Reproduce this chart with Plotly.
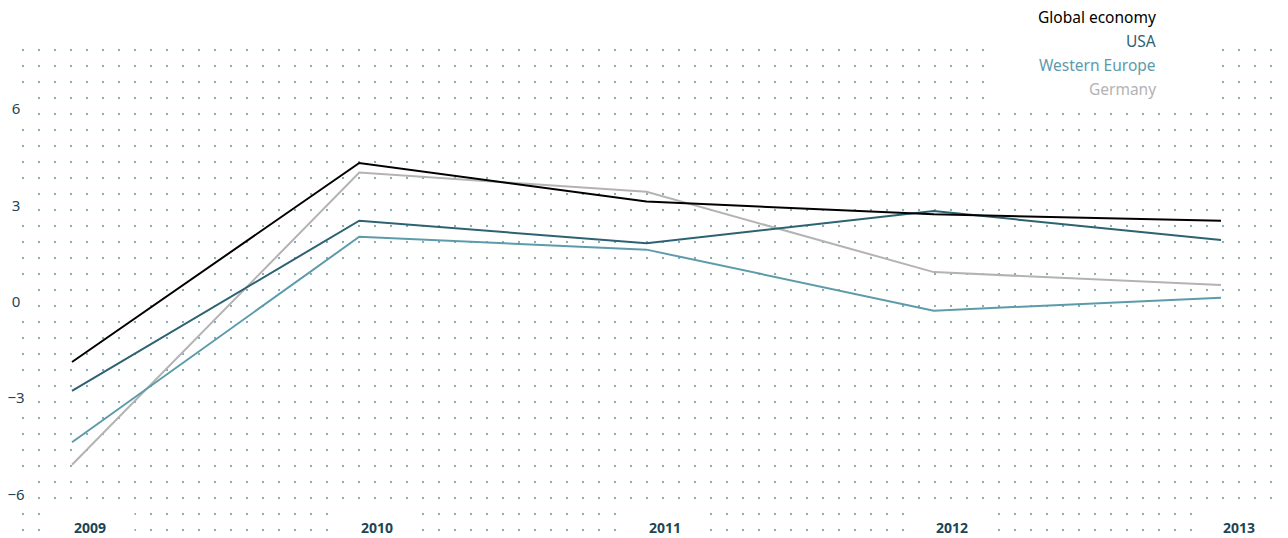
import numpy as np
import plotly.graph_objects as go

# ---- data ----
years = [2009, 2010, 2011, 2012, 2013]
year_labels = ["2009", "2010", "2011", "2012", "2013"]
series_names = ["Global economy", "USA", "Western Europe", "Germany"]
global_economy = [-1.9, 4.3, 3.1, 2.7, 2.5]
usa = [-2.8, 2.5, 1.8, 2.8, 1.9]
western_europe = [-4.4, 2.0, 1.6, -0.3, 0.1]
germany = [-5.1, 4.0, 3.4, 0.9, 0.5]
y_ticks = [6, 3, 0, -3, -6]
y_tick_labels = ["6", "3", "0", "\u22123", "\u22126"]

# ---- style ----
W, H = 1288, 538
OFF = 8  # page body margin: figure is drawn 8px right/down of the window origin
FONT = "Noto Sans"
colors = {"Global economy": "#000000", "USA": "#2c6272",
          "Western Europe": "#5d9bab", "Germany": "#b3b3b3"}
values = {"Global economy": global_economy, "USA": usa,
          "Western Europe": western_europe, "Germany": germany}
label_color = "#1d4655"
dot_color = "#86afbe"

# pixel mapping (window pixels) for data axes
x0_px, x1_px = 72, 1221
px_per_year = (x1_px - x0_px) / (years[-1] - years[0])
zero_px, px_per_unit = 301, 32.1
x_range = [years[0] - (x0_px - OFF) / px_per_year,
           years[-1] + (W + OFF - x1_px) / px_per_year]
y_range = [(zero_px - (H + OFF)) / px_per_unit, (zero_px - OFF) / px_per_unit]

fig = go.Figure()

# background dot grid (base axes in window pixel units)
gx = np.arange(7, W, 16)
gy = np.arange(50, H, 16)
GX, GY = np.meshgrid(gx, gy)
fig.add_trace(go.Scatter(x=GX.ravel(), y=GY.ravel(), mode="markers",
                         marker=dict(symbol="square", size=2, color=dot_color,
                                     line=dict(width=0)),
                         hoverinfo="skip", showlegend=False, xaxis="x", yaxis="y"))

# lines on overlaying data axes
for name in ["Germany", "Western Europe", "USA", "Global economy"]:
    fig.add_trace(go.Scatter(x=years, y=values[name], mode="lines", name=name,
                             line=dict(color=colors[name], width=2),
                             showlegend=False, xaxis="x2", yaxis="y2"))

annotations = []
# x labels (left aligned at the year position, white box behind)
for yr, lab in zip(years, year_labels):
    annotations.append(dict(x=yr, y=527, xref="x2", yref="y", text="<b>%s</b>" % lab,
                            showarrow=False, xanchor="center", yanchor="middle",
                            xshift=18, width=86, height=28, bgcolor="white",
                            font=dict(family=FONT, size=14, color=label_color)))
# y labels
for v, lab in zip(y_ticks, y_tick_labels):
    annotations.append(dict(x=16, y=v, xref="x", yref="y2", text=lab,
                            showarrow=False, xanchor="center", yanchor="middle",
                            width=30, height=28, bgcolor="white",
                            font=dict(family=FONT, size=15, color=label_color)))
# legend as right-aligned texts
for i, name in enumerate(series_names):
    annotations.append(dict(x=1158, y=17 + 24 * i, xref="x", yref="y", text=name,
                            showarrow=False, xanchor="right", yanchor="middle",
                            align="right",
                            font=dict(family=FONT, size=15.5, color=colors[name])))

# white panel behind the legend (clears the dot grid there)
shapes = [dict(type="rect", xref="x", yref="y", x0=995, x1=1212, y0=OFF, y1=106,
               fillcolor="white", line=dict(width=0), layer="above")]

fig.update_layout(
    width=W, height=H,
    margin=dict(l=0, r=0, t=0, b=0),
    paper_bgcolor="white", plot_bgcolor="white",
    xaxis=dict(range=[OFF, W + OFF], visible=False, fixedrange=True),
    yaxis=dict(range=[H + OFF, OFF], visible=False, fixedrange=True),
    xaxis2=dict(range=x_range, overlaying="x", visible=False, fixedrange=True),
    yaxis2=dict(range=y_range, overlaying="y", visible=False, fixedrange=True),
    annotations=annotations,
    shapes=shapes,
    showlegend=False,
)

fig.write_html("out.html")
